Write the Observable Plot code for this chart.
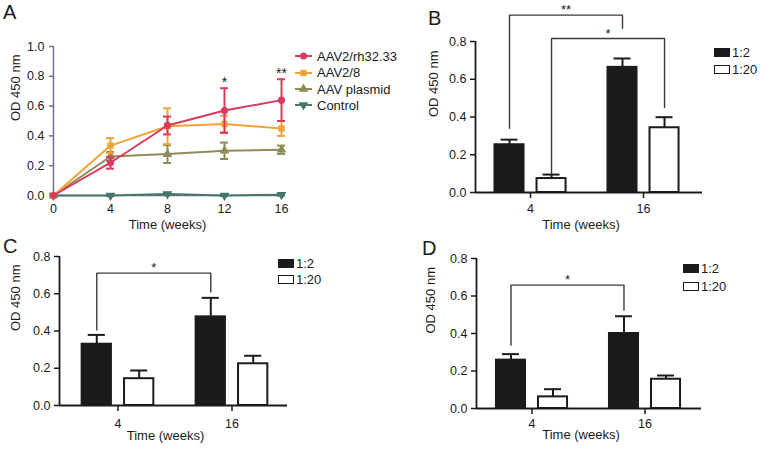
<!DOCTYPE html>
<html><head><meta charset="utf-8">
<script src="https://cdn.jsdelivr.net/npm/d3@7"></script>
<script src="https://cdn.jsdelivr.net/npm/@observablehq/plot@0.6"></script>
<style>
body{margin:0;background:#fff}
#root{position:relative;width:765px;height:451px;overflow:hidden;background:#fff;font-family:"Liberation Sans",Arial,Helvetica,sans-serif;color:#1a1a1a}
.panel{position:absolute}
.letter{position:absolute;font-size:20px;line-height:1}
.legend{position:absolute;font-size:13px;line-height:1}
.legend .row{display:flex;align-items:center;position:absolute;white-space:nowrap}
</style></head><body><div id="root"></div><script>
// ---------- Panel A data ----------
const weeks = [0, 4, 8, 12, 16];
const seriesNames = ["AAV2/rh32.33", "AAV2/8", "AAV plasmid", "Control"];
const seriesColors = ["#d93b5f", "#f3a238", "#8e8b58", "#45776a"];
const rhMean = [0, 0.22, 0.47, 0.57, 0.64];
const rhErr = [0, 0.04, 0.06, 0.15, 0.14];
const aav8Mean = [0, 0.335, 0.465, 0.48, 0.45];
const aav8Err = [0, 0.05, 0.12, 0.055, 0.05];
const plasmidMean = [0, 0.262, 0.278, 0.30, 0.307];
const plasmidErr = [0, 0.03, 0.06, 0.055, 0.028];
const controlMean = [0, 0.0, 0.01, 0.0, 0.005];
const controlErr = [0, 0.004, 0.008, 0.004, 0.006];
const yTicksA = [0, 0.2, 0.4, 0.6, 0.8, 1.0];
const sigWeeksA = [12, 16];
const sigLabelsA = ["*", "**"];

// ---------- Bar panels data ----------
const groups = ["4", "16"];
const ratios = ["1:2", "1:20"];
const yTicksBar = [0, 0.2, 0.4, 0.6, 0.8];
const bMean12 = [0.253, 0.663], bErr12 = [0.027, 0.047];
const bMean120 = [0.074, 0.343], bErr120 = [0.021, 0.056];
const cMean12 = [0.329, 0.476], cErr12 = [0.05, 0.102];
const cMean120 = [0.144, 0.224], cErr120 = [0.044, 0.043];
const dMean12 = [0.258, 0.40], dErr12 = [0.032, 0.092];
const dMean120 = [0.062, 0.156], dErr120 = [0.041, 0.02];
// brackets: [fromGroup, fromRatio, toGroup, toRatio, lowFrom, lowTo, top, label]
const bBrackets = [["4", "1:2", "16", "1:2", 0.34, 0.87, 0.94, "**"], ["4", "1:20", "16", "1:20", 0.10, 0.45, 0.816, "*"]];
const cBrackets = [["4", "1:2", "16", "1:2", 0.405, 0.61, 0.711, "*"]];
const dBrackets = [["4", "1:2", "16", "1:2", 0.338, 0.524, 0.658, "*"]];

const FONT = '"Liberation Sans", Arial, Helvetica, sans-serif';
const root = document.getElementById("root");

function place(node, left, top) {
  const d = document.createElement("div");
  d.className = "panel";
  d.style.left = left + "px"; d.style.top = top + "px";
  d.appendChild(node);
  root.appendChild(d);
  return d;
}
function letter(t, left, top) {
  const d = document.createElement("div");
  d.className = "letter"; d.textContent = t;
  d.style.left = left + "px"; d.style.top = top + "px";
  root.appendChild(d);
}

// custom downward triangle symbol
const triangleDown = {
  draw(context, size) {
    const y = -Math.sqrt(size / (Math.sqrt(3) * 3));
    context.moveTo(0, -y * 2);
    context.lineTo(-Math.sqrt(3) * y, y);
    context.lineTo(Math.sqrt(3) * y, y);
    context.closePath();
  }
};
const seriesSymbols = [d3.symbolCircle, d3.symbolSquare, d3.symbolTriangle, triangleDown];
const seriesSymbolNames = ["circle", "square", "triangle", triangleDown];

// ---------- Panel A ----------
const meansA = [rhMean, aav8Mean, plasmidMean, controlMean];
const errsA = [rhErr, aav8Err, plasmidErr, controlErr];
const rowsA = seriesNames.flatMap((name, si) => weeks.map((w, i) => ({series: name, si, week: w, mean: meansA[si][i], err: errsA[si][i]})));
const errRowsA = rowsA.filter(d => d.err > 0);
const sigA = sigWeeksA.map((w, i) => ({week: w, label: sigLabelsA[i], y: rhMean[weeks.indexOf(w)] + rhErr[weeks.indexOf(w)]}));
const axisA = "#6d7090";
const capA = 0.28;
const drawOrder = [3, 2, 1, 0];

const plotA = Plot.plot({
  width: 380, height: 240,
  marginLeft: 53, marginRight: 99, marginTop: 46, marginBottom: 45,
  style: {background: "transparent", fontSize: "12.5px", fontFamily: FONT, color: "#1a1a1a", overflow: "visible"},
  x: {domain: [0, 16]},
  y: {domain: [0, 1]},
  color: {domain: seriesNames, range: seriesColors},
  marks: [
    Plot.axisX({ticks: weeks, tickSize: 3, tickPadding: 6, stroke: axisA, strokeWidth: 1.5, fill: "#1a1a1a", label: null}),
    Plot.axisY({ticks: yTicksA, tickFormat: d3.format(".1f"), tickSize: 4, tickPadding: 5, stroke: axisA, strokeWidth: 1.5, fill: "#1a1a1a", label: null}),
    Plot.ruleX([0], {stroke: axisA, strokeWidth: 1.5}),
    Plot.ruleY([0], {stroke: axisA, strokeWidth: 1.5}),
    ...drawOrder.flatMap(si => {
      const rows = rowsA.filter(d => d.si === si);
      const errs = errRowsA.filter(d => d.si === si);
      const c = seriesColors[si];
      return [
        Plot.ruleX(errs, {x: "week", y1: d => d.mean - d.err, y2: d => d.mean + d.err, stroke: c, strokeWidth: 2}),
        Plot.ruleY(errs, {y: d => d.mean + d.err, x1: d => d.week - capA, x2: d => d.week + capA, stroke: c, strokeWidth: 2}),
        Plot.ruleY(errs, {y: d => d.mean - d.err, x1: d => d.week - capA, x2: d => d.week + capA, stroke: c, strokeWidth: 2}),
        Plot.line(rows, {x: "week", y: "mean", stroke: c, strokeWidth: 2}),
        Plot.dot(rows, {x: "week", y: "mean", symbol: seriesSymbolNames[si], r: 3.6, fill: c, stroke: "none"})
      ];
    }),
    Plot.text(sigA, {x: "week", y: "y", text: "label", dy: -6, fontSize: 14}),
    Plot.text(["OD 450 nm"], {frameAnchor: "left", rotate: -90, dx: -38, fontSize: 13}),
    Plot.text(["Time (weeks)"], {frameAnchor: "bottom", dy: 33, fontSize: 13})
  ]
});
place(plotA, 0, 0);

// Legend A
(function () {
  const lg = document.createElement("div");
  lg.className = "legend";
  lg.style.left = "295px"; lg.style.top = "0px";
  const centers = [56, 72.5, 89, 105];
  seriesNames.forEach((name, i) => {
    const row = document.createElement("div");
    row.className = "row";
    row.style.top = (centers[i] - 7) + "px"; row.style.height = "14px";
    const svg = d3.create("svg").attr("width", 17).attr("height", 10).style("margin-right", "5px").style("overflow", "visible");
    svg.append("line").attr("x1", 0).attr("x2", 17).attr("y1", 5).attr("y2", 5).attr("stroke", seriesColors[i]).attr("stroke-width", 2);
    svg.append("path").attr("transform", "translate(8.5,5)").attr("d", d3.symbol(seriesSymbols[i], 40)()).attr("fill", seriesColors[i]);
    row.appendChild(svg.node());
    const t = document.createElement("span"); t.textContent = name;
    row.appendChild(t);
    lg.appendChild(row);
  });
  root.appendChild(lg);
})();

// ---------- Bar panels ----------
const barOffset = 0.186, barWidth = 0.257, capHalf = 0.075;
const ink = "#1b1b1b";
function barPanel(cfg) {
  const means = [cfg.m12, cfg.m120], errs = [cfg.e12, cfg.e120];
  const pos = (g, r) => groups.indexOf(g) + (r === ratios[0] ? -barOffset : barOffset);
  const rows = groups.flatMap((g, gi) => ratios.map((r, ri) => ({group: g, ratio: r, x: pos(g, r), mean: means[ri][gi], err: errs[ri][gi]})));
  const brackets = cfg.brackets.map((b, bi) => ({id: bi, xa: pos(b[0], b[1]), xb: pos(b[2], b[3]), lowA: b[4], lowB: b[5], top: b[6], label: b[7]}));
  const bracketPts = brackets.flatMap(b => [
    {id: b.id, x: b.xa, y: b.lowA}, {id: b.id, x: b.xa, y: b.top},
    {id: b.id, x: b.xb, y: b.top}, {id: b.id, x: b.xb, y: b.lowB}
  ]);
  return Plot.plot({
    width: cfg.width, height: cfg.height,
    marginLeft: cfg.ml, marginRight: cfg.mr, marginTop: cfg.mt, marginBottom: cfg.mb,
    style: {background: "transparent", fontSize: "12.5px", fontFamily: FONT, color: "#1a1a1a", overflow: "visible"},
    x: {domain: cfg.xDomain},
    y: {domain: [0, 0.8]},
    marks: [
      Plot.ruleX(rows, {x: "x", y1: "mean", y2: d => d.mean + d.err, stroke: ink, strokeWidth: 2}),
      Plot.ruleY(rows, {y: d => d.mean + d.err, x1: d => d.x - capHalf, x2: d => d.x + capHalf, stroke: ink, strokeWidth: 2}),
      Plot.rect(rows, {x1: d => d.x - barWidth / 2, x2: d => d.x + barWidth / 2, y1: () => 0, y2: "mean",
        fill: d => d.ratio === ratios[0] ? ink : "#ffffff", stroke: ink, strokeWidth: 2}),
      Plot.axisX({ticks: [0, 1], tickFormat: i => groups[i], tickSize: 6, tickPadding: cfg.tpx, stroke: ink, strokeWidth: 1.5, label: null}),
      Plot.axisY({ticks: yTicksBar, tickFormat: d3.format(".1f"), tickSize: 5, tickPadding: 4, stroke: ink, strokeWidth: 1.5, label: null}),
      Plot.ruleX([cfg.xDomain[0]], {stroke: ink, strokeWidth: 1.8}),
      Plot.ruleY([0], {stroke: ink, strokeWidth: 1.8}),
      Plot.line(bracketPts, {x: "x", y: "y", z: "id", stroke: "#3a3a3a", strokeWidth: 1.4}),
      Plot.text(brackets, {x: d => (d.xa + d.xb) / 2, y: "top", text: "label", dy: -5, fontSize: 13}),
      Plot.text(["OD 450 nm"], {frameAnchor: "left", rotate: -90, dx: cfg.odDx, fontSize: 13}),
      Plot.text(["Time (weeks)"], {frameAnchor: "bottom", dy: cfg.timeDy, dx: -8, fontSize: 13})
    ]
  });
}
function barLegend(left, centers) {
  const lg = document.createElement("div");
  lg.className = "legend";
  lg.style.left = left + "px"; lg.style.top = "0px";
  ratios.forEach((r, i) => {
    const row = document.createElement("div");
    row.className = "row";
    row.style.top = (centers[i] - 7) + "px"; row.style.height = "14px";
    const sw = document.createElement("div");
    sw.style.width = "14px"; sw.style.height = "7px";
    sw.style.border = "1.5px solid " + ink;
    sw.style.background = i === 0 ? ink : "#fff";
    sw.style.marginRight = "2px";
    row.appendChild(sw);
    const t = document.createElement("span"); t.textContent = r;
    row.appendChild(t);
    lg.appendChild(row);
  });
  root.appendChild(lg);
}

const plotB = barPanel({width: 385, height: 240, ml: 95, mr: 63, mt: 41, mb: 48, xDomain: [-0.487, 1.522],
  m12: bMean12, e12: bErr12, m120: bMean120, e120: bErr120, brackets: bBrackets, tpx: 6, odDx: -42, timeDy: 36});
place(plotB, 380, 0);
barLegend(714, [52, 69]);

const plotC = barPanel({width: 380, height: 226, ml: 59, mr: 93, mt: 31, mb: 46, xDomain: [-0.513, 1.487],
  m12: cMean12, e12: cErr12, m120: cMean120, e120: cErr120, brackets: cBrackets, tpx: 8, odDx: -44, timeDy: 34});
place(plotC, 0, 225);
barLegend(278, [263, 279]);

const plotD = barPanel({width: 385, height: 226, ml: 96, mr: 64, mt: 33, mb: 43, xDomain: [-0.491, 1.5],
  m12: dMean12, e12: dErr12, m120: dMean120, e120: dErr120, brackets: dBrackets, tpx: 5, odDx: -46, timeDy: 30});
place(plotD, 380, 225);
barLegend(683, [268.5, 286]);

letter("A", 3, 2);
letter("B", 428, 8);
letter("C", 3, 236);
letter("D", 422, 238);
</script></body></html>
